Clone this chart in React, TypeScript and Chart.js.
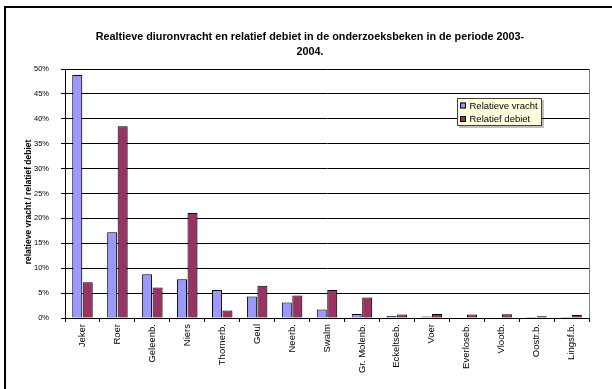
import { useEffect, useRef } from 'react';
import { Chart, registerables } from 'chart.js';

Chart.register(...registerables);

const categories = ['Jeker', 'Roer', 'Geleenb.', 'Niers', 'Thornerb.', 'Geul', 'Neerb.', 'Swalm', 'Gr. Molenb.', 'Eckeltseb.', 'Voer', 'Everloseb.', 'Vlootb.', 'Oostr.b.', 'Lingsf.b.'];
const relatieveVracht = [48.8, 17.2, 8.8, 7.8, 5.6, 4.3, 3.1, 1.7, 0.8, 0.4, 0.3, 0.1, 0.05, 0.02, 0.02];
const relatiefDebiet = [7.2, 38.5, 6.1, 21.1, 1.5, 6.5, 4.5, 5.6, 4.1, 0.7, 0.8, 0.7, 0.75, 0.35, 0.6];
const seriesNames = ['Relatieve vracht', 'Relatief debiet'];
const seriesColors = ['#9999FF', '#993366'];
const titleLines = ['Realtieve diuronvracht en relatief debiet in de onderzoeksbeken in de periode 2003-', '2004.'];
const yAxisTitle = 'relatieve vracht / relatief debiet';
const yMin = 0;
const yMax = 50;
const yStep = 5;

const FONT = '"Liberation Sans", Arial, sans-serif';

const decorPlugin = {
  id: 'decor',
  beforeDraw(chart: any) {
    const ctx = chart.ctx;
    ctx.save();
    ctx.fillStyle = '#ffffff';
    ctx.fillRect(0, 0, chart.width, chart.height);
    // outer frame
    ctx.fillStyle = '#000000';
    ctx.fillRect(4, 6, chart.width - 4, 2);
    ctx.fillRect(4, 6, 2, chart.height - 6);
    ctx.restore();
  },
  beforeDatasetsDraw(chart: any) {
    const ctx = chart.ctx;
    const a = chart.chartArea;
    ctx.save();
    ctx.strokeStyle = '#808080';
    ctx.lineWidth = 1;
    ctx.beginPath();
    ctx.moveTo(Math.round(a.right) + 0.5, a.top);
    ctx.lineTo(Math.round(a.right) + 0.5, a.bottom);
    ctx.stroke();
    ctx.restore();
    ctx.save();
    ctx.shadowColor = 'rgba(0,0,0,0.35)';
    ctx.shadowOffsetX = 1;
    ctx.shadowOffsetY = 1;
    ctx.shadowBlur = 1.5;
  },
  afterDatasetsDraw(chart: any) {
    chart.ctx.restore();
  },
  afterDraw(chart: any) {
    const ctx = chart.ctx;
    ctx.save();
    // title
    ctx.fillStyle = '#000';
    ctx.font = `bold 10.8px ${FONT}`;
    ctx.textAlign = 'center';
    ctx.textBaseline = 'middle';
    ctx.fillText(titleLines[0], 310, 37);
    ctx.fillText(titleLines[1], 310, 52);
    // y axis title
    ctx.save();
    ctx.translate(29, 202);
    ctx.rotate(-Math.PI / 2);
    ctx.font = `bold 8.5px ${FONT}`;
    ctx.fillText(yAxisTitle, 0, 0);
    ctx.restore();
    // legend
    const lx = 457, ly = 98, lw = 85, lh = 28;
    ctx.fillStyle = 'rgba(0,0,0,0.25)';
    ctx.fillRect(lx + 2, ly + 2, lw, lh);
    ctx.fillStyle = '#FFFFE0';
    ctx.fillRect(lx, ly, lw, lh);
    ctx.strokeStyle = '#404040';
    ctx.lineWidth = 1;
    ctx.strokeRect(lx + 0.5, ly + 0.5, lw - 1, lh - 1);
    ctx.font = `9.5px ${FONT}`;
    ctx.textAlign = 'left';
    const rows = [105.5, 119];
    seriesNames.forEach((name, i) => {
      const cy = rows[i];
      ctx.fillStyle = seriesColors[i];
      ctx.fillRect(460, cy - 3, 6, 6);
      ctx.strokeStyle = '#000';
      ctx.strokeRect(460.5, cy - 2.5, 5, 5);
      ctx.fillStyle = '#000';
      ctx.fillText(name, 469.5, cy + 0.5);
    });
    ctx.restore();
  },
};

export default function App() {
  const ref = useRef<HTMLCanvasElement | null>(null);

  useEffect(() => {
    document.body.style.margin = '0';
    const canvas = ref.current;
    if (!canvas) return;
    const chart = new Chart(canvas, {
      type: 'bar',
      data: {
        labels: categories,
        datasets: [
          {
            label: seriesNames[0],
            data: relatieveVracht,
            backgroundColor: seriesColors[0],
            borderColor: '#000000',
            borderWidth: 1,
            categoryPercentage: 0.6,
            barPercentage: 0.95,
          },
          {
            label: seriesNames[1],
            data: relatiefDebiet,
            backgroundColor: seriesColors[1],
            borderColor: '#000000',
            borderWidth: 1,
            categoryPercentage: 0.6,
            barPercentage: 0.95,
          },
        ],
      },
      options: {
        responsive: false,
        animation: false,
        devicePixelRatio: 1,
        layout: { padding: { top: 69, right: 23, left: 0, bottom: 0 } },
        plugins: {
          legend: { display: false },
          title: { display: false },
          tooltip: { enabled: false },
        },
        scales: {
          x: {
            grid: {
              offset: true,
              drawOnChartArea: false,
              drawTicks: true,
              tickLength: 4,
              color: '#000000',
            },
            border: { color: '#000000', width: 1 },
            ticks: {
              maxRotation: 90,
              minRotation: 90,
              autoSkip: false,
              padding: 2,
              color: '#000000',
              font: { family: FONT, size: 9.5 },
            },
            afterFit(scale: any) {
              scale.height = 71;
            },
          },
          y: {
            min: yMin,
            max: yMax,
            grid: {
              color: '#000000',
              drawTicks: true,
              tickLength: 4,
              lineWidth: 1,
            },
            border: { color: '#000000', width: 1 },
            ticks: {
              stepSize: yStep,
              padding: 12,
              color: '#000000',
              font: { family: FONT, size: 7.5 },
              callback: (v: any) => `${v}%`,
            },
            afterFit(scale: any) {
              scale.width = 65;
            },
          },
        },
      },
      plugins: [decorPlugin],
    });
    return () => chart.destroy();
  }, []);

  return (
    <div style={{ width: 612, height: 389 }}>
      <canvas ref={ref} width={612} height={389} style={{ display: 'block' }} />
    </div>
  );
}
